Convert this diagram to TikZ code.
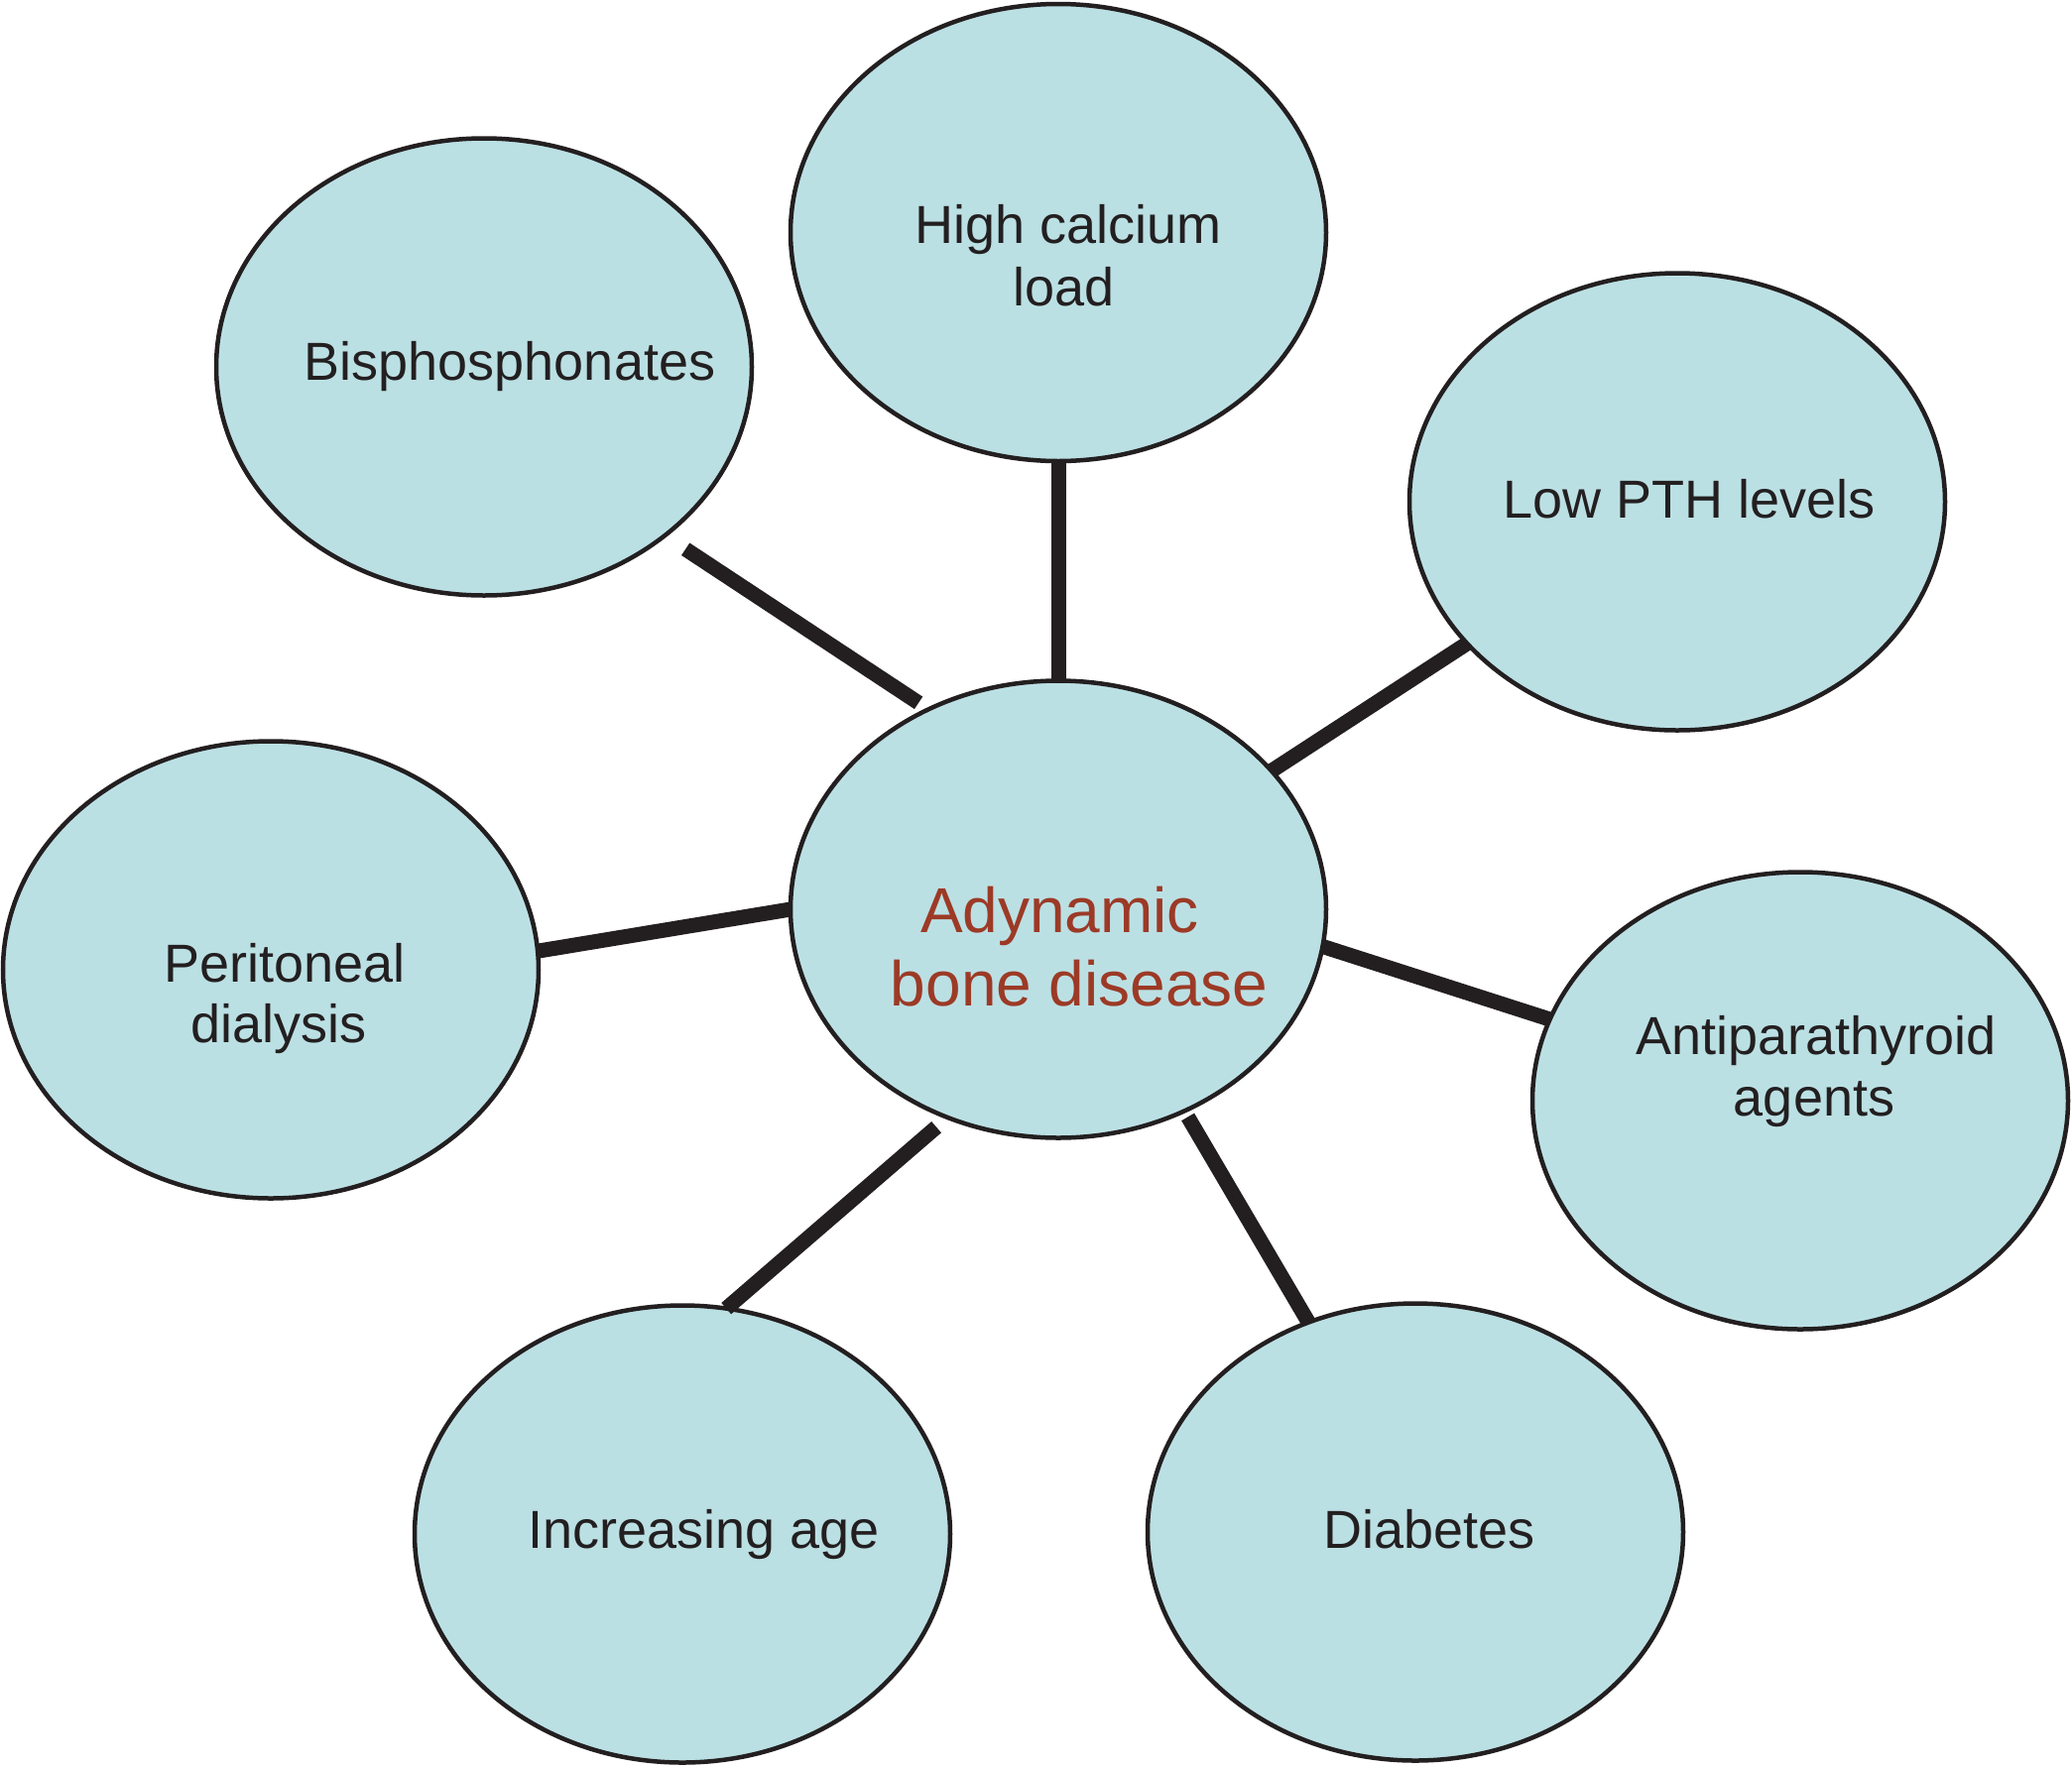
\documentclass[tikz,border=0pt]{standalone}
\usepackage{fontspec}
\setmainfont{Liberation Sans}
\usetikzlibrary{shapes.geometric}
\definecolor{bubblefill}{HTML}{BBE0E4}
\definecolor{ink}{HTML}{231F20}
\definecolor{redtext}{HTML}{9C3A26}
\begin{document}
\begin{tikzpicture}[x=1pt,y=-1pt,
  bubble/.style={ellipse, draw=ink, line width=4.5pt, fill=bubblefill,
    minimum width=540pt, minimum height=461pt, inner sep=0pt, outer sep=0pt},
  lbl/.style={anchor=base, inner sep=0pt, text=ink, font=\fontsize{54}{63}\selectfont},
  mainlbl/.style={anchor=base, inner sep=0pt, text=redtext, font=\fontsize{64}{74}\selectfont},
  link/.style={draw=ink, line width=15pt}]
\fill[white] (0,0) rectangle (2089,1783);
\useasboundingbox (0,0) rectangle (2089,1783);

\node[bubble] (ad) at (1067,917) {};
\node[bubble] (hc) at (1067,234.5) {};
\node[bubble] (bi) at (488,370) {};
\node[bubble] (lp) at (1691,506) {};
\node[bubble] (pd) at (273,978) {};
\node[bubble] (ap) at (1815,1110) {};
\node[bubble] (ag) at (688,1547) {};
\node[bubble] (di) at (1427,1545) {};

\node[lbl] (hc1) at (1076.7,245) {High calcium};
\node[lbl] (hc2) at (1072.5,308.3) {load};
\node[lbl] (bi1) at (514,383.3) {Bisphosphonates};
\node[lbl] (lp1) at (1703.3,522.3) {Low PTH levels};
\node[lbl] (pd1) at (286.7,990) {Peritoneal};
\node[lbl] (pd2) at (280.8,1051.7) {dialysis};
\node[lbl] (ap1) at (1831,1063.3) {Antiparathyroid};
\node[lbl] (ap2) at (1829,1125) {agents};
\node[lbl] (ag1) at (709.2,1561.7) {Increasing age};
\node[lbl] (di1) at (1440.8,1561.7) {Diabetes};
\node[mainlbl] (ad1) at (1068.5,940) {Adynamic};
\node[mainlbl] (ad2) at (1088.3,1014) {bone disease};

\draw[link] (hc.south) -- (ad.north);
\draw[link, shorten <=25pt, shorten >=12pt] (bi.317.3) -- (ad.123.4);
\draw[link] (lp.214) -- (ad.33);
\draw[link] (pd.4.9) -- (ad.180);
\draw[link] (ad.352) -- (ap.162.5);
\draw[link, shorten >=15pt] (ag.79.4) -- (ad.242.1);
\draw[link, shorten >=7pt] (di.117.2) -- (ad.302.1);
\end{tikzpicture}
\end{document}
